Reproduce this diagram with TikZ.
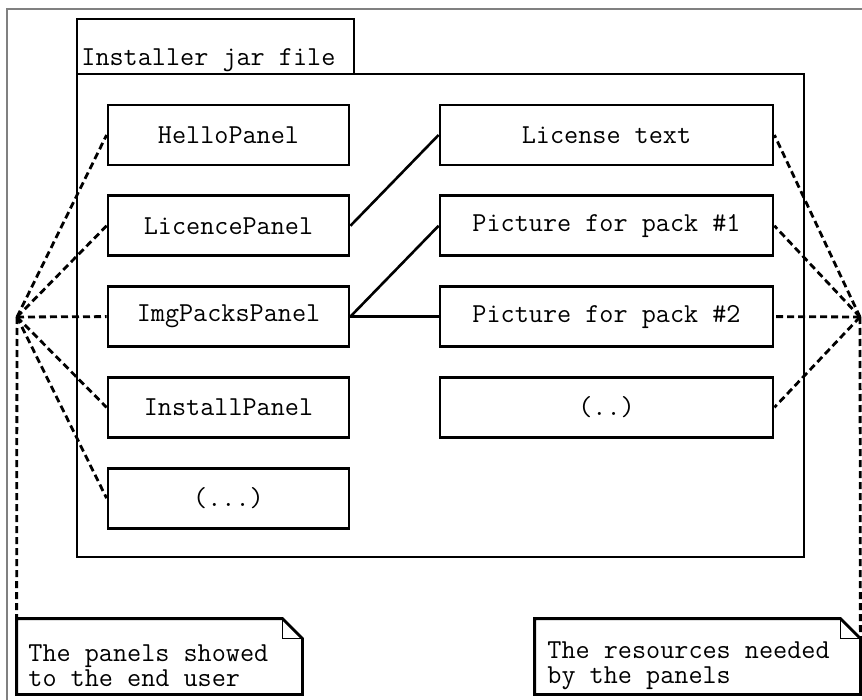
\documentclass[tikz,border=0pt]{standalone}
\usepackage{fontspec}
\usetikzlibrary{positioning}

\begin{document}
\begin{tikzpicture}[x=0.5pt,y=-0.5pt,node distance=45.4pt,
  font=\ttfamily\fontsize{13.7}{12.5}\selectfont,
  panel node/.style={draw,line width=1.4pt,minimum width=120.5pt,minimum height=30pt,inner sep=0pt},
  res node/.style={panel node,minimum width=166.5pt},
  note node/.style={minimum height=37.5pt,inner sep=0pt},
  note text/.style={anchor=west,align=left,inner sep=0pt},
  link/.style={line width=1.3pt},
  uses/.style={line width=1.4pt,dash pattern=on 3.5pt off 2pt}]

  \useasboundingbox (0,0) rectangle (862,700);
  \draw[gray,line width=0.75pt] (7,700) -- (7,9) -- (862,9);

  % the jar with its tab
  \draw[line width=1.4pt] (77,74) rectangle (804,557);
  \draw[line width=1.4pt] (77,74) -- (77,19) -- (354,19) -- (354,74);
  \node[anchor=base west,inner sep=0pt] (jar) at (81,66) {Installer jar file};

  % panels
  \node[panel node] (hello) at (228.5,135) {HelloPanel};
  \node[panel node] (licence) [below of=hello] {LicencePanel};
  \node[panel node] (imgpacks) [below of=licence] {ImgPacksPanel};
  \node[panel node] (install) [below of=imgpacks] {InstallPanel};
  \node[panel node] (more) [below of=install] {(...)};

  % resources
  \node[res node] (license) [right of=hello,node distance=189pt] {License text};
  \node[res node] (pic1) [below of=license] {Picture for pack \#1};
  \node[res node] (pic2) [below of=pic1] {Picture for pack \#2};
  \node[res node] (etc) [below of=pic2] {(..)};

  \path[link]
    (licence.east) edge (license.west)
    (imgpacks.east) edge (pic1.west)
    (imgpacks.east) edge (pic2.west);

  % notes
  \node[note node,minimum width=142.5pt] (unote) at (159.5,656.5) {};
  \node[note node,minimum width=162.5pt] (rnote) at (697.5,656.5) {};
  \foreach \n in {unote,rnote} {
    \draw[line width=1.4pt] (\n.south west) -- (\n.north west)
      -- ([xshift=-10pt]\n.north east) -- ([yshift=-10pt]\n.north east)
      -- (\n.south east) -- cycle;
    \draw[line width=0.5pt] ([xshift=-10pt]\n.north east) |- ([yshift=-10pt]\n.north east);
  }
  \node[note text] (utext) at (28,666) {The panels showed\\to the end user};
  \node[note text] (rtext) at (547,666) {The resources needed\\by the panels};

  \coordinate (users) at (17,317);
  \coordinate (needs) at (860,317);
  \path[uses]
    (users) edge (hello.west)
    (users) edge (licence.west)
    (users) edge (imgpacks.west)
    (users) edge (install.west)
    (users) edge (more.west)
    (users) edge (unote.north west);
  \path[uses]
    (needs) edge (license.east)
    (needs) edge (pic1.east)
    (needs) edge (pic2.east)
    (needs) edge (etc.east)
    (needs) edge ([yshift=-10pt]rnote.north east);
\end{tikzpicture}
\end{document}
